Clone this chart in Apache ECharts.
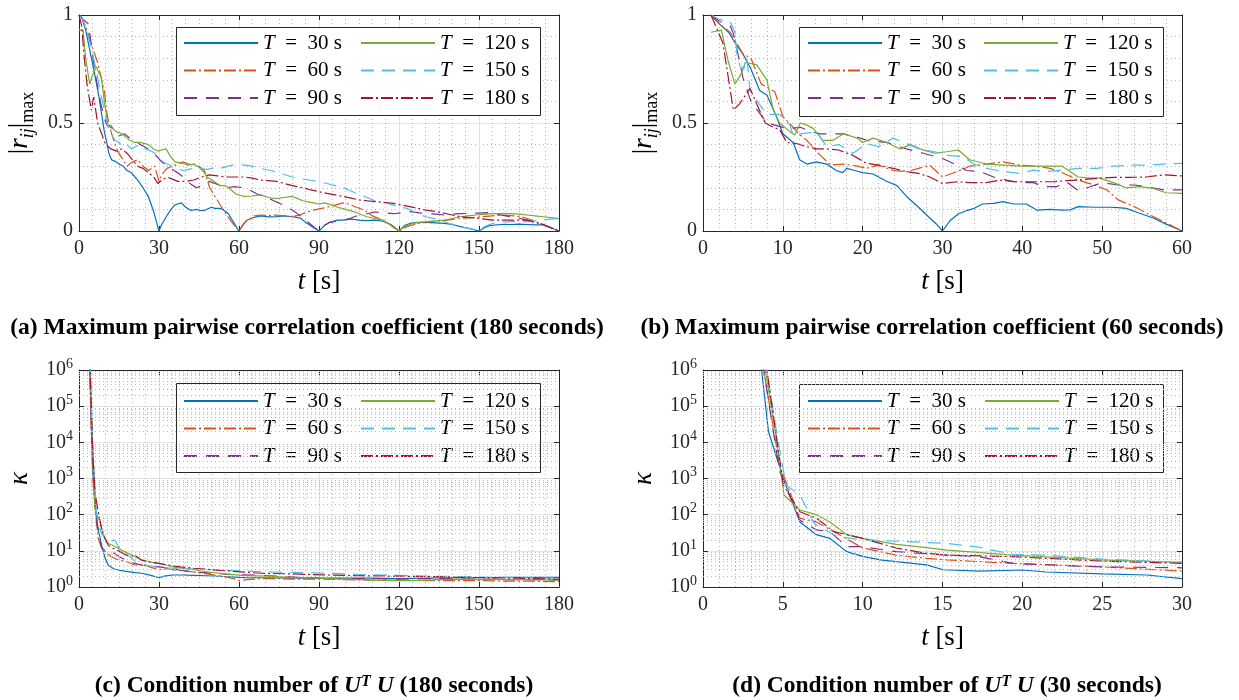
<!DOCTYPE html>
<html>
<head>
<meta charset="utf-8">
<script src="https://cdn.jsdelivr.net/npm/echarts@6/dist/echarts.min.js"></script>
<style>html,body{margin:0;padding:0;background:#fff}#c{width:1239px;height:700px}</style>
</head>
<body>
<div id="c"></div>
<script>
// ---------- DATA ----------
const seriesNames = ['T30', 'T60', 'T90', 'T120', 'T150', 'T180'];

// (a) max pairwise correlation, 180 s
const a30 = [[0,1],[1,0.99],[2.5,0.93],[4,0.84],[5.5,0.75],[6.6,0.68],[7.5,0.62],[8.5,0.54],[9.5,0.46],[10.4,0.41],[11.2,0.36],[12.2,0.33],[14,0.32],[15,0.31],[16.6,0.30],[18,0.28],[19.6,0.27],[21,0.25],[22,0.236],[24,0.2],[26,0.16],[28,0.09],[30,0],[31,0.03],[32.7,0.066],[34.5,0.1],[35.9,0.12],[37,0.125],[38.4,0.13],[40,0.11],[42,0.095],[44,0.1],[45.5,0.095],[47,0.095],[49.6,0.11],[51,0.105],[53,0.105],[55,0.09],[56,0.08],[58,0.04],[59.4,0.01],[60,0],[61.5,0.03],[63,0.05],[65,0.06],[68,0.07],[71,0.065],[74,0.066],[77,0.07],[80,0.066],[83,0.06],[85,0.04],[88,0.015],[90,0],[92,0.025],[94,0.04],[97,0.05],[99,0.05],[102,0.055],[105,0.05],[108,0.048],[111,0.05],[114,0.045],[117,0.03],[119,0.01],[120,0],[122,0.025],[124,0.035],[127,0.04],[130,0.04],[134,0.038],[137,0.035],[140,0.03],[143,0.02],[147,0.01],[150,0],[152,0.015],[154,0.025],[158,0.03],[162,0.03],[165,0.032],[168,0.03],[171,0.028],[174,0.028],[177,0.015],[180,0]];
const a60 = [[0,1],[1,0.99],[3,0.93],[5,0.85],[7,0.78],[8.5,0.7],[9.6,0.64],[10.3,0.56],[11,0.51],[12,0.46],[13,0.42],[14.5,0.37],[16,0.34],[18,0.30],[20,0.32],[22,0.33],[24,0.3],[26,0.28],[28.4,0.3],[30,0.23],[31,0.26],[33,0.29],[35,0.3],[37,0.31],[39,0.32],[41,0.31],[43,0.31],[45,0.3],[47,0.28],[49,0.2],[52,0.14],[55,0.08],[58,0.03],[60,0],[62,0.035],[63,0.05],[66,0.07],[68,0.074],[71,0.072],[74,0.074],[77,0.07],[80,0.066],[83,0.075],[86,0.09],[88,0.097],[91,0.105],[93,0.11],[96,0.12],[99,0.13],[101,0.125],[104,0.11],[107,0.097],[110,0.07],[113,0.055],[115,0.043],[118,0.02],[120,0],[123,0.02],[127,0.035],[131,0.042],[135,0.047],[138,0.05],[141,0.055],[144,0.06],[148,0.063],[151,0.066],[155,0.07],[159,0.074],[163,0.07],[166,0.066],[170,0.05],[173,0.035],[176,0.02],[180,0]];
const a90 = [[0,1],[1.5,0.98],[3.4,0.96],[4.2,0.9],[5,0.82],[6.5,0.7],[8,0.6],[9.5,0.52],[10.5,0.49],[12,0.48],[14,0.46],[15,0.44],[17,0.45],[19,0.43],[21,0.42],[23,0.4],[24.6,0.39],[27,0.37],[29.6,0.34],[31,0.32],[33,0.3],[35,0.285],[37,0.27],[39,0.25],[41.6,0.22],[44,0.2],[46,0.21],[49,0.23],[52,0.215],[55,0.2],[58,0.205],[62,0.2],[64,0.19],[67,0.17],[70,0.16],[73,0.14],[75,0.13],[78,0.11],[80,0.097],[83,0.07],[85,0.05],[88,0.02],[90,0],[92,0.025],[94,0.04],[97,0.045],[99,0.05],[102,0.06],[105,0.074],[108,0.08],[111,0.088],[114,0.085],[118,0.08],[121,0.085],[124,0.09],[127,0.085],[130,0.08],[134,0.078],[137,0.074],[140,0.078],[143,0.08],[147,0.082],[150,0.083],[153,0.085],[156,0.08],[159,0.072],[162,0.066],[165,0.06],[168,0.05],[171,0.04],[174,0.03],[177,0.015],[180,0]];
const a120 = [[0,0.93],[1.5,0.93],[2.5,0.8],[3.5,0.72],[4,0.68],[5,0.72],[6.5,0.76],[7.5,0.73],[8.4,0.71],[9.6,0.59],[11,0.48],[12,0.49],[13,0.47],[14,0.46],[16,0.45],[18,0.43],[19,0.42],[21,0.41],[23,0.41],[26,0.4],[28,0.38],[29.6,0.37],[31,0.375],[32.7,0.38],[34,0.35],[36,0.32],[38,0.315],[39.6,0.31],[41,0.305],[43,0.31],[45,0.295],[47,0.27],[48,0.25],[50,0.235],[53,0.21],[55,0.21],[57,0.19],[59,0.17],[62,0.16],[65,0.162],[68,0.167],[71,0.155],[74,0.15],[77,0.155],[80,0.16],[82,0.15],[84,0.14],[86,0.135],[88,0.13],[90,0.125],[92,0.13],[95,0.12],[97,0.11],[100,0.1],[103,0.09],[106,0.075],[108,0.066],[111,0.058],[114,0.05],[116,0.035],[118,0.015],[120,0],[122,0.02],[125,0.035],[128,0.04],[130,0.043],[134,0.047],[137,0.05],[140,0.058],[143,0.066],[146,0.07],[149,0.074],[152,0.077],[155,0.08],[158,0.08],[162,0.08],[165,0.078],[168,0.074],[171,0.07],[174,0.066],[177,0.062],[180,0.058]];
const a150 = [[0,1],[1.5,0.98],[3,0.92],[4.6,0.85],[6,0.77],[7,0.71],[8,0.64],[9,0.59],[10.5,0.5],[12,0.45],[13.5,0.42],[15,0.41],[16.5,0.39],[18,0.4],[19.6,0.38],[21,0.39],[23,0.4],[25,0.38],[27,0.37],[28.5,0.36],[30,0.34],[31.5,0.32],[33,0.31],[35,0.3],[37,0.29],[39,0.28],[41,0.285],[43,0.29],[45,0.29],[48,0.285],[50,0.29],[53,0.29],[56,0.3],[59,0.31],[62,0.305],[65,0.3],[68,0.29],[72,0.28],[76,0.265],[80,0.25],[84,0.24],[87,0.235],[89,0.23],[93,0.22],[96,0.21],[99,0.2],[102,0.185],[105,0.17],[108,0.155],[111,0.14],[115,0.13],[118,0.12],[121,0.11],[123,0.105],[127,0.08],[130,0.066],[134,0.055],[137,0.043],[140,0.03],[143,0.02],[147,0.01],[150,0],[152,0.02],[155,0.035],[158,0.04],[162,0.043],[165,0.043],[168,0.043],[171,0.047],[174,0.05],[177,0.055],[180,0.058]];
const a180 = [[0,1],[1,0.95],[2,0.8],[3,0.68],[4.6,0.56],[5.5,0.62],[7,0.5],[8.5,0.45],[9.6,0.41],[11,0.39],[12,0.38],[14,0.37],[16,0.38],[18,0.36],[20,0.33],[22,0.3],[24,0.29],[26,0.27],[28,0.25],[29.6,0.22],[31,0.235],[33,0.25],[35,0.24],[37,0.23],[40,0.23],[43,0.236],[46,0.25],[49,0.26],[52,0.255],[55,0.25],[58,0.25],[62,0.25],[65,0.245],[68,0.236],[71,0.233],[74,0.23],[77,0.22],[80,0.21],[84,0.2],[87,0.19],[90,0.182],[93,0.174],[96,0.167],[99,0.16],[102,0.152],[105,0.144],[108,0.14],[111,0.136],[115,0.132],[118,0.128],[121,0.12],[124,0.113],[127,0.105],[130,0.097],[134,0.09],[137,0.082],[140,0.074],[143,0.066],[146,0.062],[149,0.06],[152,0.055],[155,0.05],[159,0.05],[162,0.05],[165,0.05],[168,0.05],[171,0.04],[174,0.03],[177,0.015],[180,0]];

// (b) max pairwise correlation, 60 s
const b30 = [[1,1],[2,0.96],[3.2,0.92],[4.2,0.86],[5,0.82],[6,0.75],[7.1,0.65],[8,0.63],[9.2,0.53],[10,0.45],[11.3,0.41],[12.1,0.33],[13,0.31],[14.2,0.32],[15.5,0.31],[16.7,0.28],[17.5,0.27],[18,0.29],[19,0.28],[20,0.27],[21.3,0.264],[22,0.25],[23,0.23],[24.3,0.21],[25.5,0.16],[27,0.11],[28.4,0.06],[29.3,0.03],[30,0],[31,0.05],[32,0.08],[33,0.094],[34,0.105],[35,0.125],[36.4,0.128],[37.6,0.136],[38.9,0.125],[40.5,0.125],[41.8,0.097],[43.5,0.1],[45,0.097],[46,0.098],[47,0.113],[49,0.11],[51,0.11],[52,0.108],[53,0.105],[54.7,0.082],[56.4,0.06],[58,0.032],[60,0]];
const b60 = [[1,1],[2,0.96],[3.4,0.92],[5,0.82],[6,0.8],[7.3,0.68],[9,0.645],[10,0.53],[11.3,0.48],[12,0.45],[13,0.42],[14.7,0.35],[16,0.305],[17.6,0.31],[19.3,0.3],[20.5,0.29],[22,0.305],[23.8,0.28],[25.5,0.275],[27,0.29],[28.4,0.305],[30,0.25],[31.8,0.275],[33.4,0.3],[35.5,0.31],[37.6,0.32],[39.7,0.305],[41.8,0.3],[43.5,0.29],[45,0.27],[47,0.236],[49,0.213],[50.6,0.19],[52,0.144],[54,0.113],[55.6,0.082],[57.7,0.043],[60,0]];
const b90 = [[1,1],[2.1,0.97],[3.4,0.95],[3.8,0.915],[4.2,0.85],[5,0.71],[6,0.6],[7,0.55],[8,0.5],[9,0.49],[10,0.48],[10.9,0.475],[12.2,0.48],[13.5,0.46],[14.7,0.45],[16,0.45],[17.6,0.45],[19.7,0.43],[20.5,0.42],[23,0.41],[25.5,0.38],[27.6,0.36],[30,0.336],[31.8,0.305],[33,0.28],[34.7,0.275],[36.4,0.25],[38,0.236],[39.7,0.224],[41.4,0.224],[42.6,0.205],[44.3,0.205],[45.5,0.228],[47,0.187],[48.5,0.205],[50,0.224],[52,0.213],[54,0.213],[55.6,0.205],[57.7,0.19],[60,0.19]];
const b120 = [[1,0.92],[2.3,0.93],[3.2,0.78],[4,0.68],[4.8,0.73],[5.3,0.78],[6.7,0.77],[8,0.7],[8.8,0.56],[9.6,0.5],[10.9,0.46],[11.5,0.444],[12.2,0.5],[13,0.49],[13.8,0.475],[15,0.42],[16.3,0.42],[17.6,0.45],[19.3,0.43],[20,0.41],[21.3,0.43],[23,0.41],[24.7,0.38],[26,0.4],[27.2,0.38],[29,0.36],[30.5,0.367],[32,0.375],[33.4,0.33],[35.5,0.31],[37.6,0.305],[39.7,0.3],[41.8,0.3],[43.9,0.3],[45,0.3],[47,0.25],[48.5,0.245],[49.7,0.245],[51.4,0.224],[53,0.2],[54.7,0.205],[56.4,0.197],[58,0.177],[60,0.174]];
const b150 = [[1,1],[2,0.98],[3.4,0.97],[4,0.92],[4.3,0.8],[4.7,0.76],[5.1,0.75],[5.5,0.8],[5.9,0.65],[7,0.59],[8,0.54],[9.6,0.54],[10.9,0.49],[11.3,0.44],[12.2,0.45],[14.2,0.46],[15.5,0.39],[17,0.4],[18.8,0.36],[20.5,0.405],[22,0.39],[23.8,0.43],[25.5,0.405],[27,0.38],[29,0.367],[30.5,0.35],[32.6,0.344],[33.9,0.31],[35.5,0.29],[37.6,0.275],[39.7,0.267],[41.4,0.282],[43,0.275],[45,0.282],[47,0.29],[49.3,0.29],[51.4,0.3],[53.5,0.305],[55.6,0.305],[57.7,0.31],[60,0.313]];
const b180 = [[1,1],[2.5,0.87],[3.8,0.56],[4.6,0.59],[5.9,0.66],[6.7,0.59],[7.8,0.5],[8.8,0.48],[9.6,0.47],[10.5,0.41],[11.7,0.405],[13,0.39],[14.2,0.38],[15.5,0.38],[17,0.375],[18.8,0.35],[20.5,0.313],[22,0.305],[23.8,0.29],[25.5,0.275],[27,0.267],[28.4,0.25],[30,0.22],[31.8,0.228],[33.4,0.224],[35.5,0.224],[37.2,0.236],[38.9,0.228],[40.5,0.228],[42,0.228],[43.9,0.228],[45.5,0.233],[47,0.236],[49.3,0.244],[51.4,0.248],[53.5,0.248],[55.6,0.25],[57.7,0.26],[60,0.255]];

// (c) condition number, 180 s
const c30 = [[3,1e8],[4,1.5e6],[4.6,3e4],[5.2,1500],[6,180],[6.6,80],[7.2,40],[8.5,14],[9.75,6.3],[11,4],[13,3.2],[14.75,2.95],[16.5,2.8],[18.5,2.65],[21,2.5],[23.5,2.4],[27,2.1],[30,1.8],[32,2.0],[35,2.15],[39,2.15],[43,2.1],[48,2.05],[55,1.95],[60,1.85],[63,1.8],[70,1.8],[80,1.75],[90,1.75],[100,1.75],[110,1.75],[120,1.7],[130,1.75],[140,1.8],[150,1.8],[160,1.85],[170,1.85],[180,1.85]];
const c60 = [[3,1e8],[4,1e6],[4.6,2e4],[5.2,1000],[6,150],[7.2,22],[8.5,12],[9.75,9.5],[12,7],[14.75,5.6],[18,5],[21,4],[24,4.3],[27,3.5],[30,3.0],[33,3.2],[37,2.9],[43,2.6],[50,2.2],[55,1.9],[58,1.7],[60,1.5],[63,1.6],[68,1.7],[74,1.7],[80,1.65],[90,1.65],[100,1.6],[110,1.55],[118,1.55],[130,1.5],[140,1.5],[150,1.5],[160,1.45],[170,1.45],[180,1.4]];
const c90 = [[3,1e8],[4,2e6],[4.6,5e4],[5.2,2000],[6,300],[6.6,80],[7.2,30],[8.5,12],[10,10],[12.3,9.5],[15,7],[18.5,5],[21,4.5],[23.5,4],[27,3.7],[30,3.6],[34,3.3],[38,2.9],[43,2.6],[50,2.4],[58,2.2],[68,2.1],[80,1.9],[90,1.75],[100,1.7],[110,1.7],[120,1.65],[130,1.7],[140,1.7],[150,1.65],[160,1.6],[170,1.6],[180,1.55]];
const c120 = [[3,1e8],[4,3e6],[4.6,1e5],[5.2,5000],[6,150],[7,90],[7.9,63],[9,30],[9.75,22],[11,16],[12.3,14.5],[14,12.5],[17,9.5],[20,7.5],[23.5,5.6],[27,4.9],[30,4.5],[33,4],[36,3.5],[40,3.2],[43,3.0],[48.5,2.6],[55,2.3],[61,2.1],[70,2.0],[80,1.85],[90,1.75],[100,1.65],[110,1.55],[118,1.5],[125,1.5],[135,1.6],[143,1.65],[150,1.6],[160,1.6],[170,1.6],[180,1.55]];
const c150 = [[3,1e8],[4,5e6],[4.6,2e5],[5.2,8000],[6,600],[6.5,120],[7.2,60],[8.5,30],[10,20],[11,17],[12,19],[13.5,20],[14.75,13],[17,9],[21,5.2],[24,4.2],[27,3.8],[30,3.5],[35,3.3],[40,3.2],[45,3.1],[55,2.9],[65,2.7],[73,2.6],[80,2.55],[93,2.4],[105,2.25],[118,2.1],[130,2.0],[143,1.95],[155,1.85],[165,1.8],[180,1.75]];
const c180 = [[3,1e8],[4,3e6],[4.6,1e5],[5.2,4000],[6,400],[7.2,120],[8.5,40],[10,20],[11,14],[12.5,12],[14.75,10],[17,8],[19.75,6.9],[21,7.5],[23.5,5.5],[27,4.8],[30,4.5],[34,4],[38,3.6],[43,3.3],[50,3],[58,2.7],[68,2.4],[80,2.3],[93,2.15],[105,2.05],[118,2.0],[130,1.95],[143,1.85],[155,1.8],[165,1.75],[180,1.65]];

// (d) condition number, 30 s
const d30 = [[3,1e8],[3.67,1e6],[4.1,2e4],[5.03,1000],[6.07,63],[7.1,28],[7.95,22],[9,9.5],[10,7],[11.1,5.6],[12.1,5],[14,4.1],[15.05,3],[17.3,2.75],[20,2.95],[21.5,2.6],[25,2.3],[27.8,2.15],[30,1.7]];
const d60 = [[3,1e8],[3.8,1e6],[4.8,2300],[6.07,80],[7.1,63],[8.2,34],[10,12],[12.1,7.6],[14,6.2],[15.3,5.6],[19.4,4.5],[25,3.6],[30,2.75]];
const d90 = [[3,1e8],[3.8,1e6],[4.8,1550],[6.07,70],[7.1,38],[7.95,34],[9,13],[10,13],[12.1,9.5],[15.3,7.6],[17.3,6.9],[19.4,4.5],[21.5,4.1],[25,3.6],[30,3.4]];
const d120 = [[3,1e8],[3.9,1e6],[4.6,1.3e4],[5.07,350],[6.07,135],[7.1,100],[7.95,63],[9,28],[10,22],[12.1,15],[14,12.3],[15.3,10.5],[19.4,7.6],[25,5.6],[30,4.8]];
const d150 = [[3,1e8],[4,1e6],[4.6,2e4],[5.2,660],[6.07,350],[6.5,150],[6.9,63],[7.1,51],[8.4,25],[10,20],[12.1,18.6],[15.3,16],[17.3,12.6],[19.4,8],[21.5,7.6],[25,5.9],[30,4.8]];
const d180 = [[3,1e8],[4,1e6],[5.03,660],[6.07,120],[7.1,80],[8.2,34],[10,22],[12.1,12],[14,8.5],[15.3,7.6],[19.4,6.9],[25,5.2],[30,4.5]];

const captions = [
  '(a) Maximum pairwise correlation coefficient (180 seconds)',
  '(b) Maximum pairwise correlation coefficient (60 seconds)',
  '(c) Condition number of {bi|U}{sup|T}{bi| U} (180 seconds)',
  '(d) Condition number of {bi|U}{sup|T}{bi| U} (30 seconds)'
];

// ---------- STYLE ----------
const COLORS = {T30:'#0072BD', T60:'#D95319', T90:'#7E2F8E', T120:'#77AC30', T150:'#4DBEEE', T180:'#A2142F'};
const DASH = {T30:'solid', T60:[12,3,2,3], T90:[13,9], T120:'solid', T150:[13,8], T180:[12,3,2,3]};
const FONT = 'Liberation Serif';
const AXC = '#262626';

const panels = [
  {grid:{left:79, top:15, width:480, height:216}, data:[a30,a60,a90,a120,a150,a180], xmax:180, xint:30, xminor:6, log:false,
   leg:[183,360,32], box:[176,27,364,88], cap:[307,328]},
  {grid:{left:703, top:15, width:479, height:216}, data:[b30,b60,b90,b120,b150,b180], xmax:60, xint:10, xminor:5, log:false,
   leg:[807,983,32], box:[799,27,364,89], cap:[932,328]},
  {grid:{left:79, top:370, width:480, height:217}, data:[c30,c60,c90,c120,c150,c180], xmax:180, xint:30, xminor:6, log:true,
   leg:[183,360,390], box:[176,383,364,89], cap:[314,686]},
  {grid:{left:703, top:370, width:479, height:217}, data:[d30,d60,d90,d120,d150,d180], xmax:30, xint:5, xminor:5, log:true,
   leg:[807,984,390], box:[799,384,364,88], cap:[947,686]}
];

const grids = [], xAxes = [], yAxes = [], series = [], legends = [], graphics = [];
const lineAx = {show:true, onZero:false, lineStyle:{color:AXC, width:1}};
const tickAx = {show:true, inside:true, length:5, lineStyle:{color:AXC, width:1}};
const majorSplit = {show:true, lineStyle:{color:'#e2e2e2', width:1}};
const minorSplit = {show:true, lineStyle:{color:'#b8b8b8', width:1, type:[1,3]}};
const labelStyle = {fontFamily:FONT, fontSize:20, color:AXC};
const NAMEFS = 27;

panels.forEach((p, i) => {
  grids.push(Object.assign({containLabel:false}, p.grid));
  xAxes.push({gridIndex:i, type:'value', min:0, max:p.xmax, interval:p.xint, position:'bottom',
    axisLine:lineAx, axisTick:tickAx, axisLabel:Object.assign({margin:8}, labelStyle),
    splitLine:majorSplit, minorTick:{show:false, splitNumber:p.xminor}, minorSplitLine:minorSplit,
    name:'{i|t} [s]', nameLocation:'middle', nameGap:37,
    nameTextStyle:{fontFamily:FONT, fontSize:NAMEFS, color:'#000', rich:{i:{fontFamily:FONT, fontSize:NAMEFS, fontStyle:'italic', color:'#000'}}}
  });
  if (!p.log) {
    yAxes.push({gridIndex:i, type:'value', min:0, max:1, interval:0.5, position:'left',
      axisLine:lineAx, axisTick:tickAx, axisLabel:Object.assign({margin:6}, labelStyle),
      splitLine:majorSplit, minorTick:{show:false, splitNumber:5}, minorSplitLine:minorSplit,
      name:'{n||}{i|r}{si|ij}{n||}{s|max}', nameLocation:'middle', nameGap:42, nameRotate:90,
      nameTextStyle:{fontFamily:FONT, fontSize:NAMEFS, color:'#000', lineHeight:34,
        rich:{n:{fontFamily:FONT, fontSize:NAMEFS, color:'#000', lineHeight:34},
              i:{fontFamily:FONT, fontSize:NAMEFS, fontStyle:'italic', color:'#000', lineHeight:34},
              si:{fontFamily:FONT, fontSize:18, fontStyle:'italic', color:'#000', verticalAlign:'bottom', lineHeight:18},
              s:{fontFamily:FONT, fontSize:18, color:'#000', verticalAlign:'bottom', lineHeight:14}}}
    });
  } else {
    yAxes.push({gridIndex:i, type:'log', logBase:10, min:1, max:1e6, splitNumber:6, position:'left',
      axisLine:lineAx, axisTick:tickAx,
      axisLabel:{margin:6, fontFamily:FONT, fontSize:20, color:AXC,
        formatter: v => '{b|10}{s|' + Math.round(Math.log10(v)) + '}',
        rich:{b:{fontFamily:FONT, fontSize:20, color:AXC, lineHeight:26},
              s:{fontFamily:FONT, fontSize:14, color:AXC, verticalAlign:'top', lineHeight:14}}},
      splitLine:majorSplit,
      name:'{i|κ}', nameLocation:'middle', nameGap:46, nameRotate:90,
      nameTextStyle:{fontFamily:FONT, fontSize:NAMEFS, color:'#000', rich:{i:{fontFamily:FONT, fontSize:NAMEFS, fontStyle:'italic', color:'#000'}}}
    });
  }
});
panels.forEach((p, i) => {
  xAxes.push({gridIndex:i, type:'value', min:0, max:p.xmax, interval:p.xint, position:'top',
    axisLine:lineAx, axisTick:tickAx, axisLabel:{show:false}, splitLine:{show:false}});
  if (!p.log) {
    yAxes.push({gridIndex:i, type:'value', min:0, max:1, interval:0.5, position:'right',
      axisLine:lineAx, axisTick:tickAx, axisLabel:{show:false}, splitLine:{show:false}});
  } else {
    yAxes.push({gridIndex:i, type:'log', logBase:10, min:1, max:1e6, splitNumber:6, position:'right',
      axisLine:lineAx, axisTick:tickAx, axisLabel:{show:false}, splitLine:{show:false}});
  }
});

// minor log grid values (2..9 per decade)
const logMinor = [];
for (let e = 0; e < 6; e++) for (let k = 2; k <= 9; k++) logMinor.push(k * Math.pow(10, e));

panels.forEach((p, i) => {
  if (p.log) {
    series.push({type:'line', name:'_grid' + i, xAxisIndex:i, yAxisIndex:i, data:[], z:1, silent:true,
      markLine:{silent:true, symbol:['none','none'], label:{show:false}, animation:false,
        lineStyle:{type:[1,3], color:'#b8b8b8', width:1}, emphasis:{disabled:true},
        data: logMinor.map(v => ({yAxis:v}))}});
  }
  seriesNames.forEach((n, k) => {
    series.push({type:'line', name:n, xAxisIndex:i, yAxisIndex:i, data:p.data[k],
      symbol:'none', showSymbol:false, z:2, animation:false, clip:true,
      lineStyle:{color:COLORS[n], width:1.2, type:DASH[n]}, itemStyle:{color:COLORS[n]},
      emphasis:{disabled:true}});
  });
  const legCommon = {orient:'vertical', top:p.leg[2], itemWidth:74, itemHeight:14, itemGap:5.5, padding:0,
    selectedMode:false, z:5, itemStyle:{opacity:0, borderWidth:0},
    formatter: name => '{i|T}\u2002=\u2002' + name.slice(1) + ' s',
    textStyle:{fontFamily:FONT, fontSize:21, color:'#000', lineHeight:22,
      rich:{i:{fontFamily:FONT, fontSize:21, fontStyle:'italic', color:'#000', lineHeight:22}}}};
  legends.push(Object.assign({left:p.leg[0], data:['T30','T60','T90']}, legCommon));
  legends.push(Object.assign({left:p.leg[1], data:['T120','T150','T180']}, legCommon));
  graphics.push({type:'rect', z:3, shape:{x:p.box[0]+0.5, y:p.box[1]+0.5, width:p.box[2], height:p.box[3]},
    style:{fill:'#fff', stroke:AXC, lineWidth:1}});
  graphics.push({type:'text', z:3, x:p.cap[0], y:p.cap[1],
    style:{text:captions[i], fontFamily:FONT, fontSize:23.5, fontWeight:'bold', fill:'#000',
      align:'center', verticalAlign:'middle',
      rich:{bi:{fontFamily:FONT, fontSize:23.5, fontWeight:'bold', fontStyle:'italic', fill:'#000'},
            sup:{fontFamily:FONT, fontSize:16, fontWeight:'bold', fontStyle:'italic', fill:'#000', verticalAlign:'top', lineHeight:12}}}});
});

const chart = echarts.init(document.getElementById('c'), null, {renderer:'canvas'});
chart.setOption({
  backgroundColor:'#fff',
  animation:false,
  grid:grids, xAxis:xAxes, yAxis:yAxes, series:series, legend:legends,
  graphic:{elements:graphics}
});
</script>
</body>
</html>
